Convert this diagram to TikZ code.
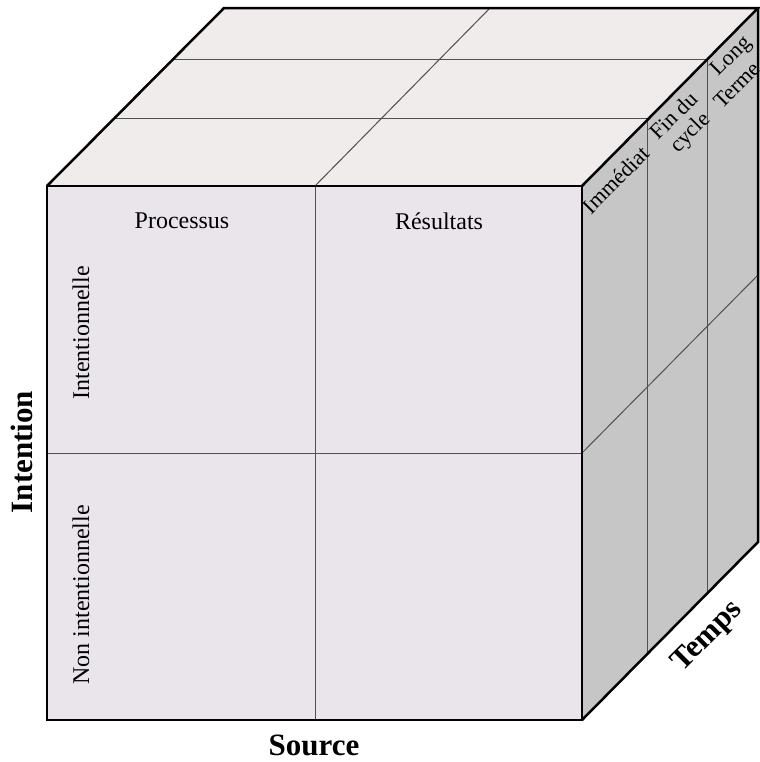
\documentclass[tikz,border=0pt]{standalone}
\usepackage{fontspec}
\setmainfont{Liberation Serif}
\usetikzlibrary{calc}
\definecolor{frontc}{HTML}{E9E5EB}
\definecolor{topc}{HTML}{EFECEB}
\definecolor{sidec}{HTML}{C6C6C6}
\definecolor{innerc}{HTML}{505050}
\tikzset{
  edge/.style={line width=1.25pt, black},
  inner/.style={line width=0.5pt, innerc},
  lbl/.style={font=\fontsize{12}{13}\selectfont, inner sep=0pt},
  sidelbl/.style={font=\fontsize{11}{11.3}\selectfont, inner sep=0pt, rotate=45},
  axis/.style={font=\fontsize{15.5}{17}\selectfont\bfseries, inner sep=0pt},
}
\begin{document}
\begin{tikzpicture}[x=0.5pt,y=-0.5pt]
\useasboundingbox (0,0) rectangle (760,762);
\coordinate (A) at (47,186);
\coordinate (B) at (582,186);
\coordinate (C) at (582,720);
\coordinate (D) at (47,720);
\coordinate (E) at (224,8);
\coordinate (F) at (758,8);
\coordinate (G) at (758,542);
% faces
\fill[frontc] (A) -- (B) -- (C) -- (D) -- cycle;
\fill[topc] (A) -- (E) -- (F) -- (B) -- cycle;
\fill[sidec] (B) -- (F) -- (G) -- (C) -- cycle;
% front grid
\coordinate (fm1) at (315,186);
\coordinate (fm2) at (315,720);
\coordinate (fh1) at (47,453);
\coordinate (fh2) at (582,453);
\draw[inner] (fm1) -- (fm2);
\draw[inner] (fh1) -- (fh2);
% top grid
\coordinate (tm2) at (490,8);
\draw[inner] (fm1) -- (tm2);
\draw[inner] ($(A)!0.38!(E)$) -- ($(B)!0.38!(F)$);
\draw[inner] ($(A)!0.713!(E)$) -- ($(B)!0.713!(F)$);
% side grid
\draw[inner] ($(B)!0.37!(F)$) -- ($(C)!0.37!(G)$);
\draw[inner] ($(B)!0.715!(F)$) -- ($(C)!0.715!(G)$);
\draw[inner] (fh2) -- ($(F)!0.5!(G)$);
% outer edges
\draw[edge] (A) -- (B) -- (C) -- (D) -- cycle;
\draw[edge] (A) -- (E) -- (F) -- (B);
\draw[edge] (F) -- (G) -- (C);
% labels
\node[lbl] (proc) at (182,221) {Processus};
\node[lbl] (res) at (439,221) {Résultats};
\node[lbl, rotate=90] (int) at (81,333) {Intentionnelle};
\node[lbl, rotate=90] (nint) at (81,595) {Non intentionnelle};
\node[sidelbl] (imm) at (616,180) {Immédiat};
\node[sidelbl, align=center] (fin) at (683,125) {Fin du\\cycle};
\node[sidelbl] (long) at (732,57) {Long};
\node[sidelbl] (terme) at (737,85) {Terme};
\node[axis, rotate=90] (ax1) at (22,452) {Intention};
\node[axis] (ax2) at (314,745) {Source};
\node[axis, rotate=45] (ax3) at (708,637) {Temps};
\end{tikzpicture}
\end{document}
